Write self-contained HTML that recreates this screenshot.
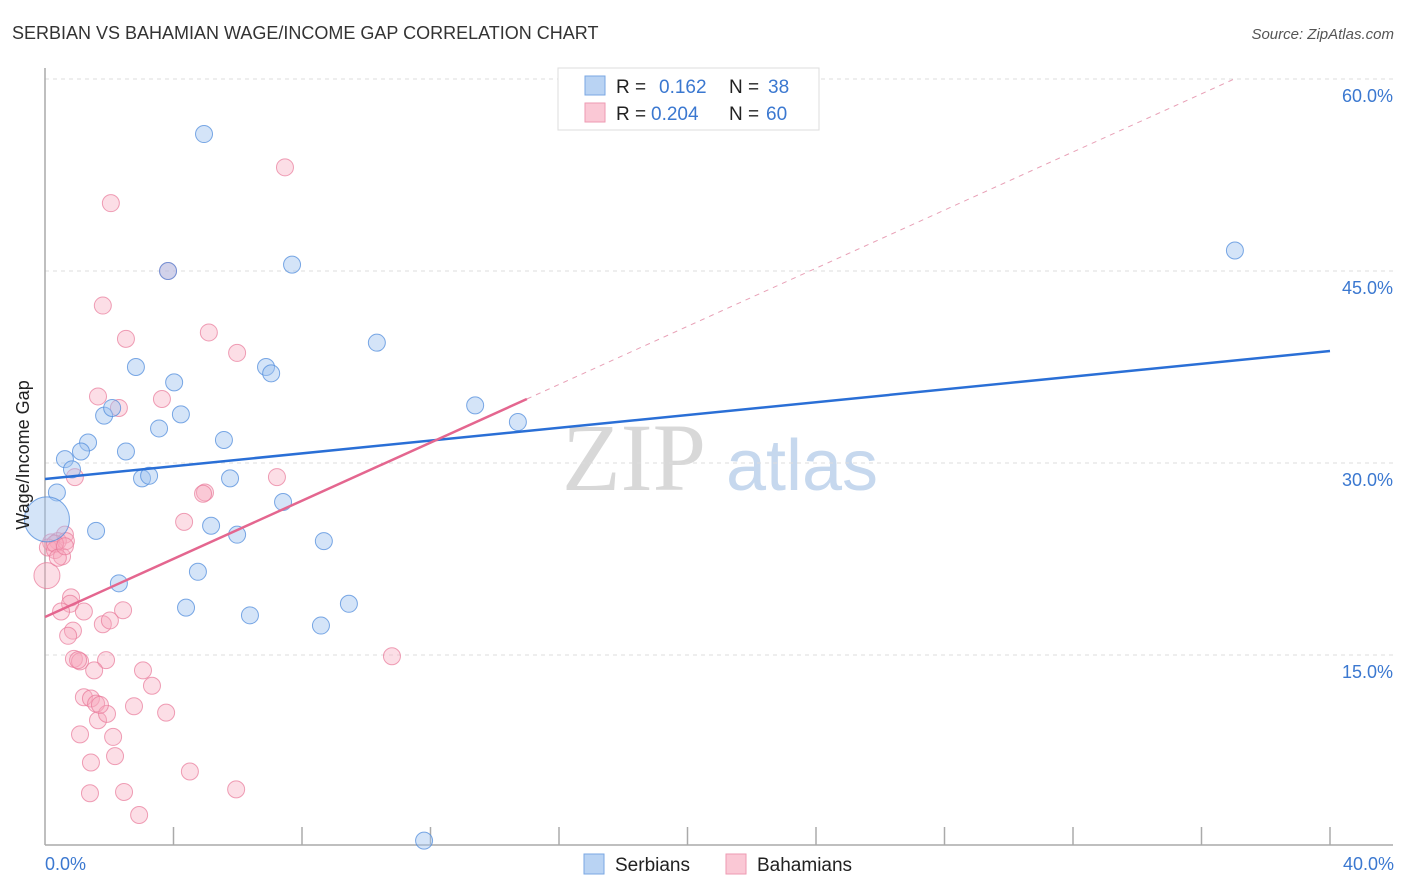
<!DOCTYPE html>
<html><head><meta charset="utf-8"><style>
body{margin:0;background:#fff;font-family:"Liberation Sans",sans-serif;}
#wrap{position:relative;width:1406px;height:892px;overflow:hidden}
svg{position:absolute;left:0;top:0}
</style></head><body>
<div id="wrap">
<svg id="chart" width="1406" height="892" xmlns="http://www.w3.org/2000/svg">
<text x="12" y="39" font-size="18" fill="#333">SERBIAN VS BAHAMIAN WAGE/INCOME GAP CORRELATION CHART</text>
<text x="1394" y="39" font-size="15" fill="#555" font-style="italic" text-anchor="end">Source: ZipAtlas.com</text>
<text x="634" y="490" font-size="96" fill="#d8d8d8" font-family="Liberation Serif,serif" text-anchor="middle">ZIP</text>
<text x="802" y="490" font-size="72" fill="#c6d8ee" text-anchor="middle">atlas</text>
<g id="grid"></g><g id="axes"></g><g id="pts"></g><g id="lines"></g>
<text x="29" y="455" font-size="18" fill="#222" text-anchor="middle" transform="rotate(-90 29 455)">Wage/Income Gap</text>
<text x="45" y="870" font-size="18" fill="#3b78d0">0.0%</text>
<text x="1394" y="870" font-size="18" fill="#3b78d0" text-anchor="end">40.0%</text>
<g>
<rect x="558" y="68" width="261" height="62" fill="#fff" stroke="#ddd"/>
<rect x="585" y="76" width="20" height="19" fill="#b9d3f3" stroke="#7aa7e3"/>
<rect x="585" y="103" width="20" height="19" fill="#fac8d5" stroke="#ee9ab2"/>
<text x="616" y="93" font-size="19" fill="#222">R = </text><text x="659" y="93" font-size="19" fill="#3b78d0">0.162</text>
<text x="729" y="93" font-size="19" fill="#222">N = </text><text x="768" y="93" font-size="19" fill="#3b78d0">38</text>
<text x="616" y="120" font-size="19" fill="#222">R = </text><text x="651" y="120" font-size="19" fill="#3b78d0">0.204</text>
<text x="729" y="120" font-size="19" fill="#222">N = </text><text x="766" y="120" font-size="19" fill="#3b78d0">60</text>
</g>
<g>
<rect x="584" y="854" width="20" height="20" fill="#b9d3f3" stroke="#7aa7e3"/>
<text x="615" y="871" font-size="19" fill="#222">Serbians</text>
<rect x="726" y="854" width="20" height="20" fill="#fac8d5" stroke="#ee9ab2"/>
<text x="757" y="871" font-size="19" fill="#222">Bahamians</text>
</g>
</svg></div>
<script>
const yTicks=[15,30,45,60];
const yTickLabels=["15.0%","30.0%","45.0%","60.0%"];
const xTicks=[0,4,8,12,16,20,24,28,32,36,40];
const serbX=[4.95,7.69,3.83,10.33,2.83,6.88,7.04,4.02,4.23,1.84,2.09,3.55,1.34,5.57,2.52,1.12,0.62,0.84,3.02,3.24,5.76,0.37,7.41,5.17,1.59,5.98,8.68,4.76,2.30,4.39,6.38,9.46,8.59,11.80,13.39,14.72,37.04,0.06];
const serbY=[55.7,45.5,45.0,39.4,37.5,37.5,37.0,36.3,33.8,33.7,34.3,32.7,31.6,31.8,30.9,30.9,30.3,29.5,28.8,29.0,28.8,27.7,26.95,25.1,24.7,24.4,23.9,21.5,20.6,18.7,18.1,19.0,17.3,0.5,34.5,33.2,46.6,25.6];
const serbR=[8,8,8,8,8,8,8,8,8,8,8,8,8,8,8,8,8,8,8,8,8,8,8,8,8,8,8,8,8,8,8,8,8,8,8,8,8,22];
const bahX=[7.47,2.05,3.83,1.80,2.52,5.10,5.98,1.65,2.30,3.64,0.93,4.98,4.92,7.22,4.33,0.62,0.40,0.19,0.09,0.31,0.53,0.65,0.06,0.31,0.81,0.78,0.50,2.43,1.21,1.80,2.02,0.87,0.72,3.05,3.33,0.90,1.09,1.90,1.53,1.21,1.43,1.59,2.77,1.65,1.93,3.77,1.09,2.12,1.43,2.18,4.51,1.40,2.46,5.95,2.93,10.80,0.40,0.62,1.03,1.71];
const bahY=[53.1,50.3,45.0,42.3,39.7,40.2,38.6,35.2,34.3,35.0,28.9,27.7,27.6,28.9,25.4,24.4,23.9,23.8,23.4,23.2,22.7,23.9,21.2,23.7,19.5,19.0,18.4,18.5,18.4,17.4,17.7,16.9,16.5,13.8,12.6,14.7,14.5,14.6,13.8,11.7,11.6,11.2,11.0,9.9,10.4,10.5,8.8,8.6,6.6,7.1,5.9,4.2,4.3,4.5,2.5,14.9,22.6,23.5,14.6,11.1];
const serbLine=[28.75,38.75];
const bahLine=[17.97,35.0];
const X=v=>45+v*32.125, Y=v=>847-v*12.8;
const NS="http://www.w3.org/2000/svg";
function mk(tag,attrs,parent){const e=document.createElementNS(NS,tag);for(const k in attrs)e.setAttribute(k,attrs[k]);document.getElementById(parent).appendChild(e);return e;}
yTicks.forEach((t,i)=>{
 const l=mk('line',{x1:45,x2:1393,y1:Y(t),y2:Y(t),stroke:'#ddd','stroke-dasharray':'4,4'},'grid');
 
 
 const tx=mk('text',{x:1393,y:Y(t)+23,'font-size':18,fill:'#3b78d0','text-anchor':'end'},'grid');
 tx.textContent=yTickLabels[i];
 
 
});
const ax=mk('line',{x1:45,x2:1393,y1:845,y2:845,stroke:'#aaa','stroke-width':1.5},'axes');


const ay=mk('line',{x1:45,x2:45,y1:68,y2:845,stroke:'#aaa','stroke-width':1.5},'axes');


xTicks.slice(1).forEach(t=>{
 const l=mk('line',{x1:X(t),x2:X(t),y1:827,y2:845,stroke:'#aaa','stroke-width':1.5},'axes');
 
 
});
bahX.forEach((x,i)=>{
 const c=mk('circle',{cx:X(x),cy:Y(bahY[i]),r:i==22?13:8.5,fill:'rgba(248,168,190,0.38)',stroke:'rgba(232,120,152,0.7)','stroke-width':1},'pts');
 
 
});
serbX.forEach((x,i)=>{
 const c=mk('circle',{cx:X(x),cy:Y(serbY[i]),r:serbR[i]+0.5,fill:'rgba(160,196,240,0.45)',stroke:'rgba(80,140,220,0.75)','stroke-width':1},'pts');
 
 
});
const bl=mk('line',{x1:X(0),y1:Y(serbLine[0]),x2:X(40),y2:Y(serbLine[1]),stroke:'#2a6fd6','stroke-width':2.5},'lines');


const slope=(bahLine[1]-bahLine[0])/15;
const xEnd=(60-bahLine[0])/slope;
const pd=mk('line',{x1:X(15),y1:Y(bahLine[1]),x2:X(xEnd),y2:Y(60),stroke:'#e8a0b6','stroke-width':1,'stroke-dasharray':'5,5'},'lines');


const pl=mk('line',{x1:X(0),y1:Y(bahLine[0]),x2:X(15),y2:Y(bahLine[1]),stroke:'#e4668f','stroke-width':2.5},'lines');


</script>
</body></html>
